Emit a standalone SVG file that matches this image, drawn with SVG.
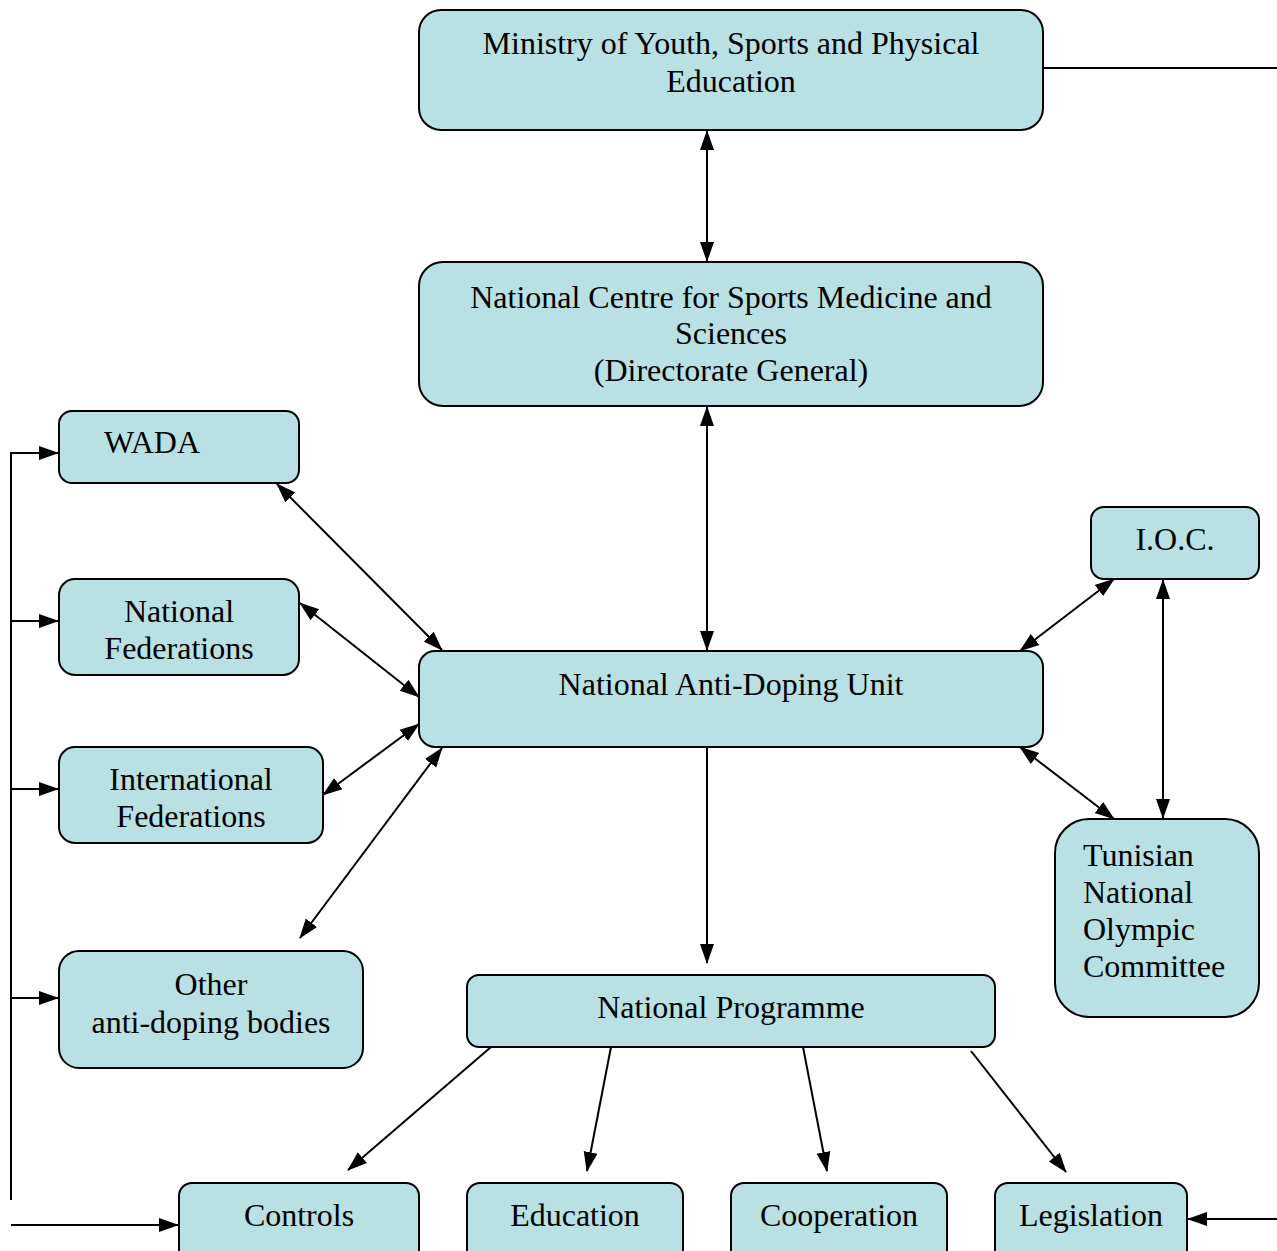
<svg xmlns="http://www.w3.org/2000/svg" width="1277" height="1251" viewBox="0 0 1277 1251">
<style>
.box{fill:#b9e0e3;stroke:#000;stroke-width:2}
.c{text-anchor:middle}
.ln{stroke:#000;stroke-width:2;fill:none}
</style>
<defs>
<marker id="ah" markerUnits="userSpaceOnUse" markerWidth="20" markerHeight="16" refX="19" refY="8" orient="auto-start-reverse" viewBox="0 0 20 16">
<path d="M0,1 L20,8 L0,15 z" fill="#000"/>
</marker>
</defs>
<rect width="1277" height="1251" fill="#fff"/>
<g id="connectors">
<line class="ln" x1="1043" y1="68" x2="1277" y2="68"/>
<line class="ln" x1="707" y1="131" x2="707" y2="261" marker-start="url(#ah)" marker-end="url(#ah)"/>
<line class="ln" x1="707" y1="407" x2="707" y2="650" marker-start="url(#ah)" marker-end="url(#ah)"/>
<line class="ln" x1="707" y1="748" x2="707" y2="963" marker-end="url(#ah)"/>
<line class="ln" x1="277" y1="484" x2="442" y2="650" marker-start="url(#ah)" marker-end="url(#ah)"/>
<line class="ln" x1="300" y1="603" x2="419" y2="697" marker-start="url(#ah)" marker-end="url(#ah)"/>
<line class="ln" x1="323" y1="795" x2="419" y2="724" marker-start="url(#ah)" marker-end="url(#ah)"/>
<line class="ln" x1="300" y1="938" x2="442" y2="748" marker-start="url(#ah)" marker-end="url(#ah)"/>
<line class="ln" x1="1114" y1="579" x2="1020" y2="651" marker-start="url(#ah)" marker-end="url(#ah)"/>
<line class="ln" x1="1163" y1="580" x2="1163" y2="818" marker-start="url(#ah)" marker-end="url(#ah)"/>
<line class="ln" x1="1020" y1="747" x2="1114" y2="819" marker-start="url(#ah)" marker-end="url(#ah)"/>
<line class="ln" x1="491" y1="1047" x2="348" y2="1170" marker-end="url(#ah)"/>
<line class="ln" x1="611" y1="1047" x2="587" y2="1171" marker-end="url(#ah)"/>
<line class="ln" x1="803" y1="1047" x2="827" y2="1171" marker-end="url(#ah)"/>
<line class="ln" x1="971" y1="1051" x2="1066" y2="1172" marker-end="url(#ah)"/>
<line class="ln" x1="11" y1="453" x2="11" y2="1200"/>
<line class="ln" x1="10" y1="453" x2="58" y2="453" marker-end="url(#ah)"/>
<line class="ln" x1="11" y1="621" x2="58" y2="621" marker-end="url(#ah)"/>
<line class="ln" x1="11" y1="789" x2="58" y2="789" marker-end="url(#ah)"/>
<line class="ln" x1="11" y1="998" x2="58" y2="998" marker-end="url(#ah)"/>
<line class="ln" x1="11" y1="1225" x2="178" y2="1225" marker-end="url(#ah)"/>
<line class="ln" x1="1277" y1="1219" x2="1188" y2="1219" marker-end="url(#ah)"/>
</g>
<g font-family="Liberation Serif, Times New Roman, DejaVu Serif, serif" font-size="32" fill="#000">
<g id="ministry">
<rect class="box" x="419" y="10" width="624" height="120" rx="22"/>
<text class="c" x="731" y="54">Ministry of Youth, Sports and Physical</text>
<text class="c" x="731" y="92">Education</text>
</g>
<g id="ncsms">
<rect class="box" x="419" y="262" width="624" height="144" rx="24"/>
<text class="c" x="731" y="308">National Centre for Sports Medicine and</text>
<text class="c" x="731" y="344">Sciences</text>
<text class="c" x="731" y="381">(Directorate General)</text>
</g>
<g id="wada">
<rect class="box" x="59" y="411" width="240" height="72" rx="13"/>
<text x="104" y="453">WADA</text>
</g>
<g id="natfed">
<rect class="box" x="59" y="579" width="240" height="96" rx="16"/>
<text class="c" x="179" y="622">National</text>
<text class="c" x="179" y="659">Federations</text>
</g>
<g id="intfed">
<rect class="box" x="59" y="747" width="264" height="96" rx="16"/>
<text class="c" x="191" y="790">International</text>
<text class="c" x="191" y="827">Federations</text>
</g>
<g id="other">
<rect class="box" x="59" y="951" width="304" height="117" rx="20"/>
<text class="c" x="211" y="995">Other</text>
<text class="c" x="211" y="1033">anti-doping bodies</text>
</g>
<g id="nadu">
<rect class="box" x="419" y="651" width="624" height="96" rx="16"/>
<text class="c" x="731" y="695">National Anti-Doping Unit</text>
</g>
<g id="ioc">
<rect class="box" x="1091" y="507" width="168" height="72" rx="13"/>
<text class="c" x="1175" y="550">I.O.C.</text>
</g>
<g id="tnoc">
<rect class="box" x="1055" y="819" width="204" height="198" rx="34"/>
<text x="1083" y="866">Tunisian</text>
<text x="1083" y="903">National</text>
<text x="1083" y="940">Olympic</text>
<text x="1083" y="977">Committee</text>
</g>
<g id="programme">
<rect class="box" x="467" y="975" width="528" height="72" rx="12"/>
<text class="c" x="731" y="1018">National Programme</text>
</g>
<g id="controls">
<rect class="box" x="179" y="1183" width="240" height="80" rx="13"/>
<text class="c" x="299" y="1226">Controls</text>
</g>
<g id="education">
<rect class="box" x="467" y="1183" width="216" height="80" rx="13"/>
<text class="c" x="575" y="1226">Education</text>
</g>
<g id="cooperation">
<rect class="box" x="731" y="1183" width="216" height="80" rx="13"/>
<text class="c" x="839" y="1226">Cooperation</text>
</g>
<g id="legislation">
<rect class="box" x="995" y="1183" width="192" height="80" rx="13"/>
<text class="c" x="1091" y="1226">Legislation</text>
</g>
</g>
</svg>
